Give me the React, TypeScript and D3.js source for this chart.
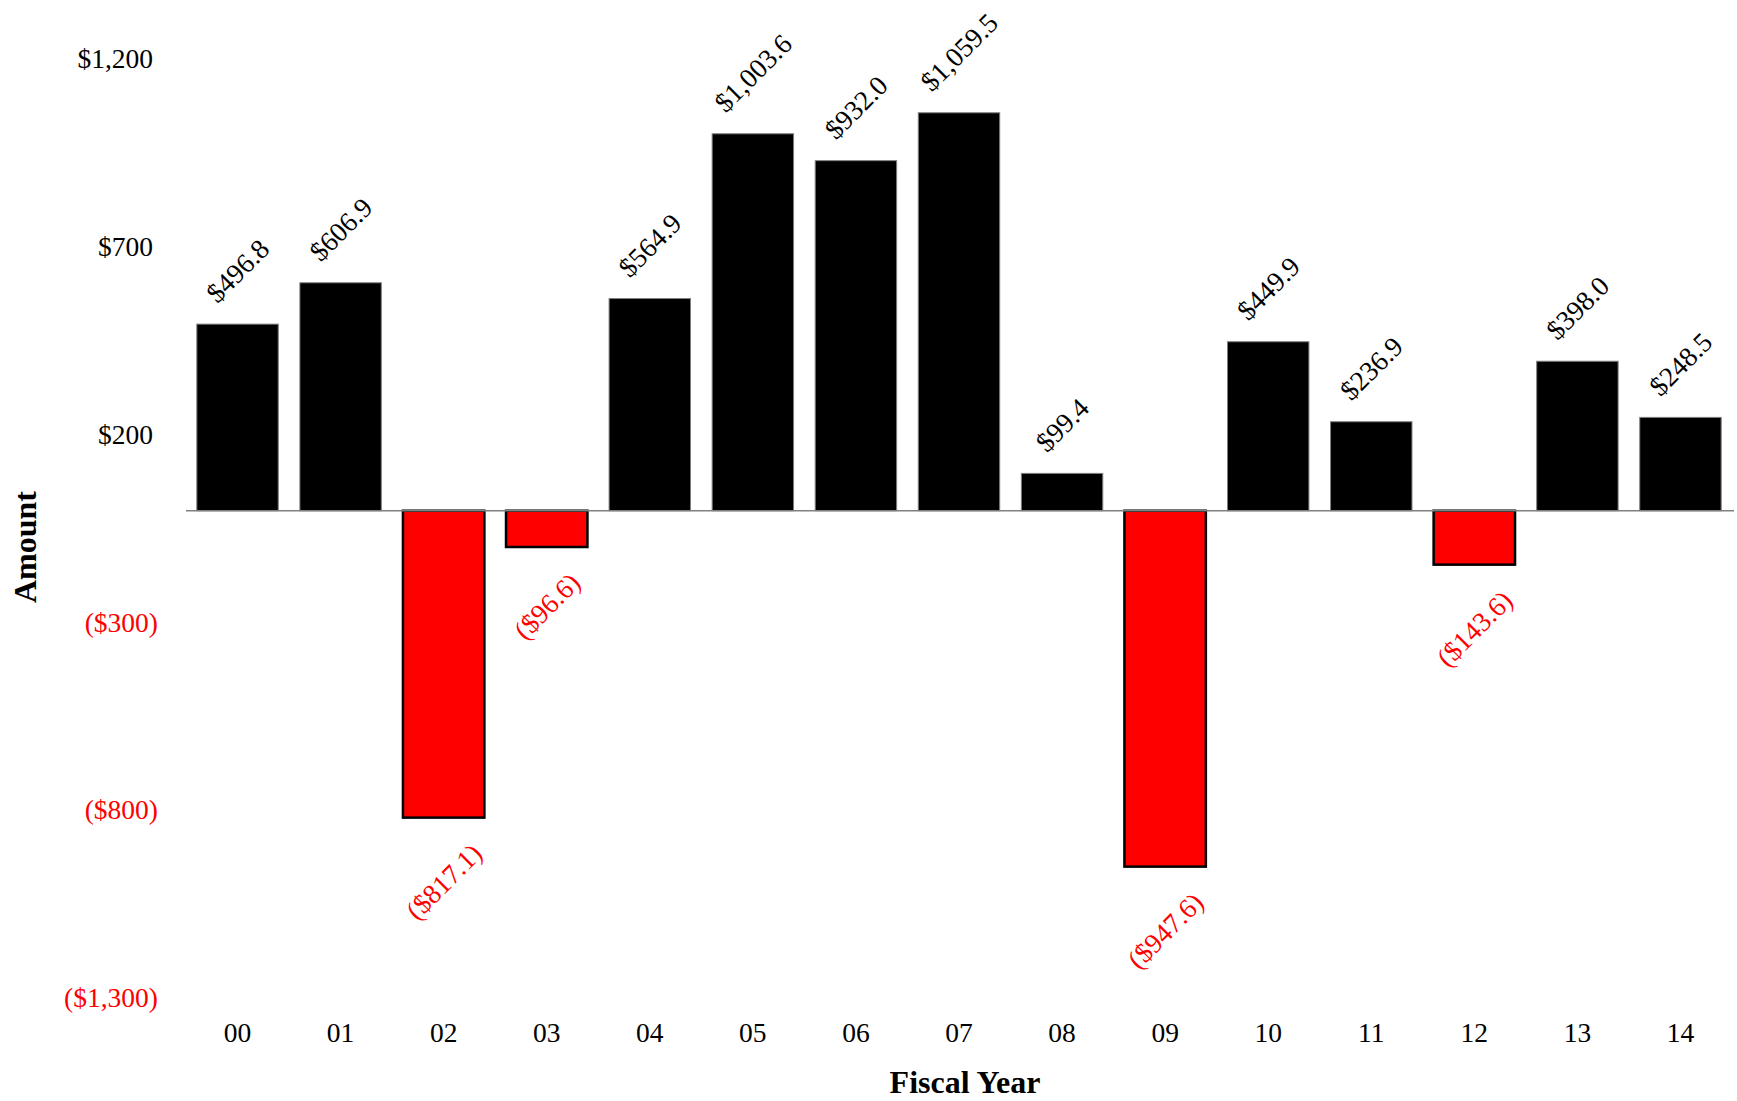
import React from "react";
import * as d3 from "d3";

const categories = ["00", "01", "02", "03", "04", "05", "06", "07", "08", "09", "10", "11", "12", "13", "14"];
const values = [496.8, 606.9, -817.1, -96.6, 564.9, 1003.6, 932.0, 1059.5, 99.4, -947.6, 449.9, 236.9, -143.6, 398.0, 248.5];
const yTicks = [1200, 700, 200, -300, -800, -1300];

const W = 1737;
const H = 1101;
const FONT = "'Liberation Serif', 'DejaVu Serif', serif";
const LABEL_SIZE = 27.5;

const fmtNum = d3.format(",.0f");
const fmtVal = d3.format(",.1f");
const tickLabel = (v: number) => (v < 0 ? `($${fmtNum(-v)})` : `$${fmtNum(v)}`);
const valLabel = (v: number) => (v < 0 ? `($${fmtVal(-v)})` : `$${fmtVal(v)}`);

let ctx: CanvasRenderingContext2D | null = null;
function textWidth(s: string): number {
  if (!ctx) {
    const c = document.createElement("canvas");
    ctx = c.getContext("2d");
  }
  if (!ctx) return s.length * LABEL_SIZE * 0.5;
  ctx.font = `${LABEL_SIZE}px 'Liberation Serif'`;
  return ctx.measureText(s).width;
}

export default function App() {
  const x = d3
    .scaleBand<string>()
    .domain(categories)
    .range([186, 1732])
    .paddingInner(0.21)
    .paddingOuter(0.105);
  const y = d3.scaleLinear().domain([-1300, 1200]).range([999, 60]);
  const y0 = y(0);

  return (
    <svg
      width={W}
      height={H}
      style={{ position: "absolute", left: 0, top: 0, background: "#fff" }}
      fontFamily={FONT}
    >
      <rect x={0} y={0} width={W} height={H} fill="#fff" />
      {/* y tick labels */}
      {yTicks.map((t) => (
        <text
          key={t}
          x={t < 0 ? 158 : 153}
          y={y(t)}
          dy="0.3em"
          textAnchor="end"
          fontSize={LABEL_SIZE}
          fill={t < 0 ? "#ff0000" : "#000"}
        >
          {tickLabel(t)}
        </text>
      ))}
      {/* bars */}
      {values.map((v, i) => {
        const c = categories[i];
        const bx = x(c)!;
        const bw = x.bandwidth();
        const top = v >= 0 ? y(v) : y0;
        const h = Math.abs(y(v) - y0);
        return (
          <rect
            key={c}
            x={bx}
            y={top}
            width={bw}
            height={h}
            fill={v >= 0 ? "#000" : "#ff0000"}
            stroke={v >= 0 ? "#7f7f7f" : "#000"}
            strokeWidth={v >= 0 ? 1 : 2.5}
          />
        );
      })}
      {/* zero line */}
      <line x1={186} x2={1734} y1={y0} y2={y0} stroke="#808080" strokeWidth={1.5} />
      {/* value labels */}
      {values.map((v, i) => {
        const c = categories[i];
        const cx = x(c)! + x.bandwidth() / 2;
        const s = valLabel(v);
        const w = textWidth(s);
        const half = (w + LABEL_SIZE) / (2 * Math.SQRT2);
        const cy = v >= 0 ? y(v) - 17 - half : y(v) + 21 + half;
        return (
          <text
            key={c}
            x={cx}
            y={cy}
            dy="0.35em"
            textAnchor="middle"
            fontSize={LABEL_SIZE}
            fill={v >= 0 ? "#000" : "#ff0000"}
            transform={`rotate(-45 ${cx} ${cy})`}
          >
            {s}
          </text>
        );
      })}
      {/* x tick labels */}
      {categories.map((c) => (
        <text
          key={c}
          x={x(c)! + x.bandwidth() / 2}
          y={1032}
          dy="0.35em"
          textAnchor="middle"
          fontSize={LABEL_SIZE}
          fill="#000"
        >
          {c}
        </text>
      ))}
      {/* axis titles */}
      <text x={965} y={1082} dy="0.35em" textAnchor="middle" fontSize={32} fontWeight="bold" fill="#000">
        Fiscal Year
      </text>
      <text
        x={25}
        y={547}
        dy="0.35em"
        textAnchor="middle"
        fontSize={32}
        fontWeight="bold"
        fill="#000"
        transform="rotate(-90 25 547)"
      >
        Amount
      </text>
    </svg>
  );
}
